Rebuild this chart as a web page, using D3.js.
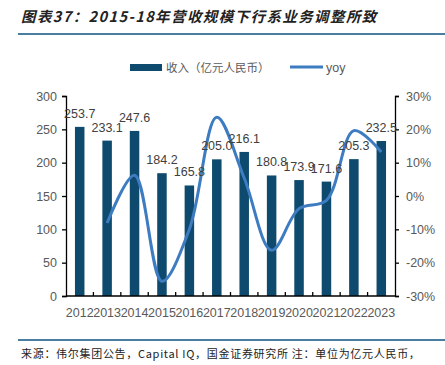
<!DOCTYPE html>
<html><head><meta charset="utf-8">
<script src="https://cdn.jsdelivr.net/npm/d3@7"></script>
<style>body{margin:0;background:#fff;}svg{display:block;}</style>
</head><body>
<svg id="c" width="445" height="365"></svg>
<script>
const years = ["2012","2013","2014","2015","2016","2017","2018","2019","2020","2021","2022","2023"];
const revenue = [253.7,233.1,247.6,184.2,165.8,205.0,216.1,180.8,173.9,171.6,205.3,232.5];
const yoy = [null,-8.1,6.2,-25.6,-10.0,23.6,5.4,-16.3,-3.8,-1.3,19.6,13.2];
const leftTicks = [0,50,100,150,200,250,300];
const rightTicks = [-30,-20,-10,0,10,20,30];

const svg = d3.select("#c");
const M = {l:66, r:395, t:96, b:296};
const x = d3.scaleBand().domain(years).range([M.l, M.r]).paddingInner(0).paddingOuter(0);
const y = d3.scaleLinear().domain([0,300]).range([M.b, M.t]);
const y2 = d3.scaleLinear().domain([-30,30]).range([M.b, M.t]);
const latin = "'Liberation Sans', Arial, sans-serif";
const cjk = "'Noto Sans CJK SC', sans-serif";

// title
svg.append("text").attr("x",21).attr("y",22).attr("font-family",cjk).attr("font-size",14.5)
  .attr("font-style","italic").attr("font-weight","bold").attr("fill","#222")
  .attr("letter-spacing",1.4)
  .text("图表37：2015-18年营收规模下行系业务调整所致");
svg.append("line").attr("x1",18).attr("x2",445).attr("y1",34).attr("y2",34)
  .attr("stroke","#4a7e9e").attr("stroke-width",2);

// legend
svg.append("rect").attr("x",130).attr("y",64).attr("width",32).attr("height",7).attr("fill","#0e4a6e");
svg.append("text").attr("x",166).attr("y",72).attr("font-family",cjk).attr("font-size",11.5).attr("fill","#595959").text("收入（亿元人民币）");
svg.append("line").attr("x1",290).attr("x2",323).attr("y1",67).attr("y2",67).attr("stroke","#3d7cc0").attr("stroke-width",3);
svg.append("text").attr("x",326).attr("y",72).attr("font-family",latin).attr("font-size",12.5).attr("fill","#595959").text("yoy");

// bars
const bw = 9.5;
svg.append("g").selectAll("rect").data(revenue).join("rect")
  .attr("x",(d,i)=>x(years[i])+x.bandwidth()/2-bw/2)
  .attr("y",d=>y(d)).attr("width",bw).attr("height",d=>y(0)-y(d)).attr("fill","#0e4a6e");

// axes
const axL = d3.axisLeft(y).tickValues(leftTicks).tickSize(4).tickPadding(5);
const gL = svg.append("g").attr("transform",`translate(${M.l},0)`).call(axL);
const axR = d3.axisRight(y2).tickValues(rightTicks).tickSize(4).tickPadding(7).tickFormat(d=>d+"%");
const gR = svg.append("g").attr("transform",`translate(${M.r},0)`).call(axR);
const axB = d3.axisBottom(x).tickSize(0).tickPadding(12);
const gB = svg.append("g").attr("transform",`translate(0,${M.b})`).call(axB);
[gL,gR,gB].forEach(g=>{
  g.select(".domain").attr("stroke","#000").attr("stroke-width",1.3);
  g.selectAll(".tick line").attr("stroke","#000").attr("stroke-width",1.3);
  g.selectAll("text").attr("font-family",latin).attr("font-size",12.5).attr("fill","#595959");
});
gB.select(".domain").attr("d",`M${M.l},0H${M.r}`);
// inward boundary ticks on bottom axis
svg.append("g").selectAll("line").data(years.slice(1)).join("line")
  .attr("x1",d=>x(d)).attr("x2",d=>x(d)).attr("y1",M.b).attr("y2",M.b-4)
  .attr("stroke","#000").attr("stroke-width",1.3);

// yoy line
const pts = yoy.map((v,i)=>[x(years[i])+x.bandwidth()/2, v]).filter(p=>p[1]!==null);
const line = d3.line().x(p=>p[0]).y(p=>y2(p[1])).curve(d3.curveCatmullRom.alpha(0.5));
svg.append("path").datum(pts).attr("d",line).attr("fill","none").attr("stroke","#3d7cc0").attr("stroke-width",3);

// data labels
svg.append("g").selectAll("text").data(revenue).join("text")
  .attr("x",(d,i)=>x(years[i])+x.bandwidth()/2).attr("y",d=>y(d)-9)
  .attr("text-anchor","middle").attr("font-family",latin).attr("font-size",12.5).attr("fill","#404040")
  .text(d=>d.toFixed(1));

// footer
svg.append("line").attr("x1",18).attr("x2",445).attr("y1",340).attr("y2",340)
  .attr("stroke","#4a7e9e").attr("stroke-width",2);
svg.append("text").attr("x",21).attr("y",358).attr("font-family",cjk).attr("font-size",11).attr("fill","#222")
  .attr("letter-spacing",0.7)
  .text("来源：伟尔集团公告，Capital IQ，国金证券研究所 注：单位为亿元人民币，");
</script>
</body></html>
